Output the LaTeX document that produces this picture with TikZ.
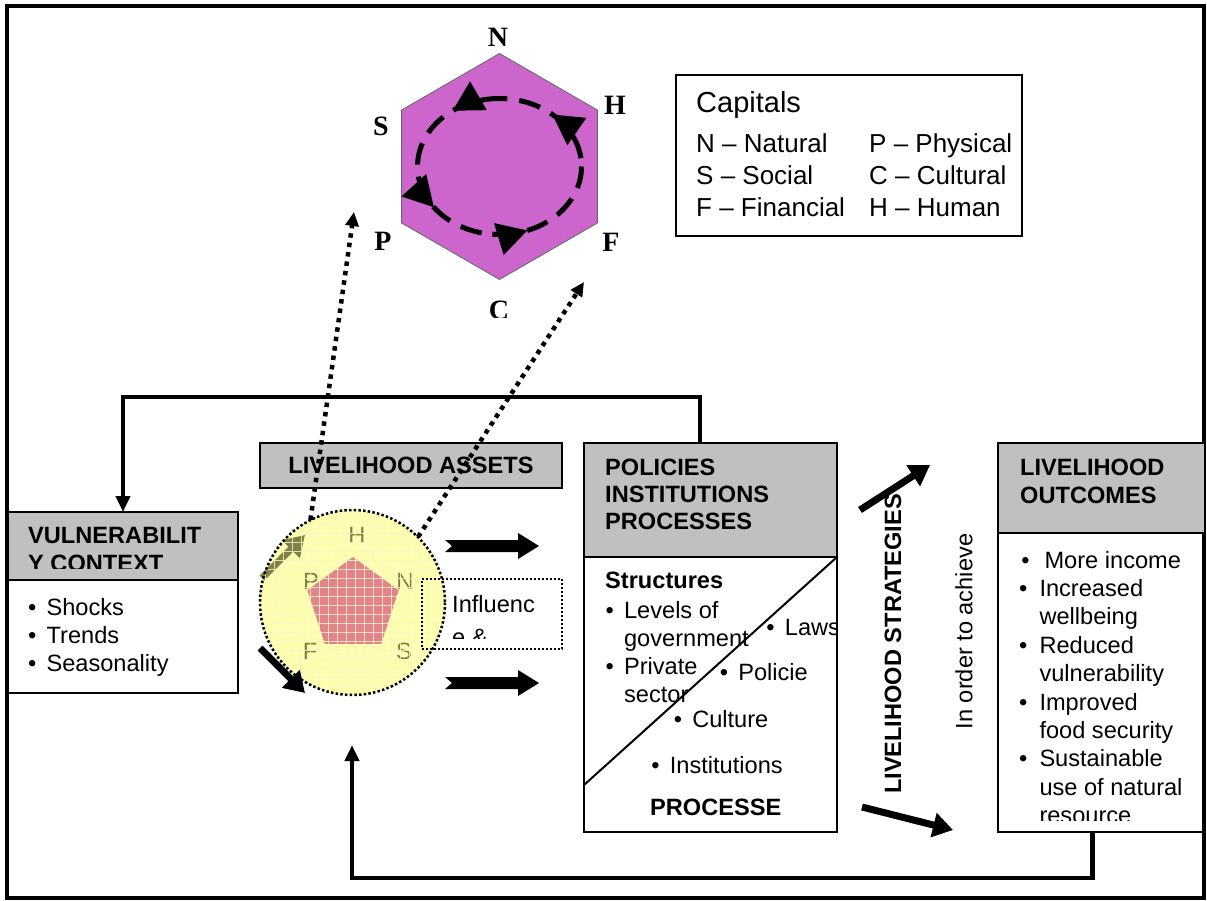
\documentclass[tikz,border=0pt]{standalone}
\usepackage{fontspec}
\setmainfont{Liberation Sans}
\newfontfamily\hexfont{Liberation Serif}
\usepackage{tikz}
\usetikzlibrary{arrows.meta,positioning,shapes.geometric}

\definecolor{hexfill}{RGB}{204,102,204}
\definecolor{headgrey}{RGB}{192,192,192}
\definecolor{assetfill}{RGB}{255,255,176}
\definecolor{pentfill}{RGB}{226,132,140}
\definecolor{assetink}{RGB}{128,128,72}
\definecolor{gridink}{RGB}{250,246,196}

\newcommand{\bodyfont}{\fontsize{23.6}{28.3}\selectfont}
\newcommand{\bul}[1][18.5]{\makebox[#1pt][l]{\textbullet}}

\begin{document}
\begin{tikzpicture}[x=1pt, y=-1pt,
  box/.style={draw, line width=2.5, anchor=north west, inner sep=0, outer sep=0},
  headbox/.style={box, fill=headgrey},
  txt/.style={anchor=base west, inner sep=0, font=\bodyfont},
  boldtxt/.style={txt, font=\bodyfont\bfseries},
  hexlbl/.style={inner sep=0, font=\hexfont\bfseries\fontsize{28}{30}\selectfont},
  captxt/.style={anchor=base west, inner sep=0, font=\fontsize{26}{31}\selectfont},
  ringarrow/.style={line width=5, -{Triangle[length=30,width=32]}},
  fb/.style={line width=4.5, -{Triangle[length=16,width=14]}},
  bigarrow/.style={line width=7, -{Triangle[length=20,width=24]}},
  dotarrow/.style={line width=4.5, dash pattern=on 4.5 off 5, -{Triangle[length=14,width=13]}}
]
\useasboundingbox (0,0) rectangle (1207,901);
% Frame
\draw[line width=4] (6.5,6.5) rectangle (1204,898);

% --- Capitals hexagon ---
\node[regular polygon, regular polygon sides=6, shape border rotate=30, minimum size=226, inner sep=0, fill=hexfill, draw=black!60, line width=0.8] (hexring) at (499.5,166.5) {};
% Dashed cycle
\draw[line width=5, dash pattern=on 22 off 12] (hexring.center) ellipse[x radius=82, y radius=68];
% Cycle arrows (running counter-clockwise)
\foreach \a in {-25,-100,-192,-265}
  \draw[ringarrow] (hexring.center) ++(\a:82 and 68) arc[start angle=\a, end angle=\a-25, x radius=82, y radius=68];
% Corner letters
\node[hexlbl] (capN) at (498,37) {N};
\node[hexlbl] (capH) at (615,105) {H};
\node[hexlbl] (capS) at (381,126) {S};
\node[hexlbl] (capP) at (383,241) {P};
\node[hexlbl] (capF) at (611,242) {F};
\begin{scope}
\clip (470,290) rectangle (530,317);
\node[hexlbl] (capC) at (499,310.5) {C};
\end{scope}

% --- Capitals key ---
\node[box, line width=2, minimum width=346, minimum height=161] (keybox) at (676,75) {};
\node[anchor=base west, inner sep=0, font=\fontsize{29}{34}\selectfont] (keytitle) at (696,113) {Capitals};
\foreach \ltr/\word/\yy in {N/Natural/153, S/Social/185, F/Financial/217}
  \node[captxt] (key\ltr) at (696,\yy) {\ltr\ -- \word};
\foreach \ltr/\word/\yy in {P/Physical/153, C/Cultural/185, H/Human/217}
  \node[captxt] (key\ltr) at (869,\yy) {\ltr\ -- \word};

% --- Vulnerability context ---
\node[headbox, minimum width=230, minimum height=68] (vulnhead) at (8,512) {};
\node[box, minimum width=230, minimum height=113] (vulnbody) at (8,580) {};
\begin{scope}
\clip (vulnhead.north west) rectangle ([yshift=12]vulnhead.south east);
\node[boldtxt] (vulntitle) at (28,543.3) {\begin{tabular}[t]{@{}l@{}}VULNERABILIT\\Y CONTEXT\end{tabular}};
\end{scope}
\node[txt] (vulnlist) at (27.9,615) {\begin{tabular}[t]{@{}l@{}}\bul Shocks\\ \bul Trends\\ \bul Seasonality\end{tabular}};

% --- Livelihood assets ---
\node[headbox, minimum width=302, minimum height=45, font=\bodyfont\bfseries] (assethead) at (260,443) {LIVELIHOOD ASSETS};
\node[circle, minimum size=185, inner sep=0, fill=assetfill] (assetring) at (352.5,602.5) {};
% pentagon of assets
\fill[pentfill] (353,557) -- (398.7,590.2) -- (381.2,643.8) -- (324.8,643.8) -- (307.3,590.2) -- cycle;
\foreach \ltr/\px/\py in {H/357/535, P/311/581, N/405/581, F/310/651, S/404/651}
  \node[inner sep=0, text=assetink, font=\bodyfont] (asset\ltr) at (\px,\py) {\ltr};
\coordinate (uptail) at (262,578);
\coordinate (uptip) at (305,535);
\draw[bigarrow, assetink] (uptail) -- (uptip);
\begin{scope}
\clip (assetring.center) circle[radius=92];
\foreach \g in {0,...,21} {
  \draw[gridink, line width=0.8, opacity=0.8] (256+9*\g,505) -- (256+9*\g,700);
  \draw[gridink, line width=0.8, opacity=0.8] (255,506+9*\g) -- (450,506+9*\g);
}
\end{scope}
\draw[line width=2.5, dash pattern=on 2.5 off 2.2] (assetring.center) circle[radius=92.5];
\coordinate (lowtail) at (260,648);
\coordinate (lowtip) at (305,693);
\draw[bigarrow] (lowtail) -- (lowtip);
% Block arrows towards policies
\foreach \yy in {546,683}
  \fill (445,\yy-6) -- (518,\yy-6) -- (518,\yy-13) -- (539,\yy) -- (518,\yy+13) -- (518,\yy+6) -- (445,\yy+6) -- (452,\yy) -- cycle;
% Influence & access
\node[box, line width=2, dash pattern=on 2 off 2, minimum width=140, minimum height=70] (inflbox) at (422,579) {};
\begin{scope}
\clip (inflbox.north west) rectangle (562,638);
\node[txt] (infl1) at (452,612) {Influenc};
\node[txt] (infl2) at (452,645) {e \&};
\end{scope}

% --- Policies, institutions, processes ---
\node[headbox, minimum width=253, minimum height=114] (polhead) at (584,443) {};
\node[box, minimum width=253, minimum height=275] (polbody) at (584,557) {};
\node[boldtxt, font=\fontsize{23.6}{27}\selectfont\bfseries] (poltitle) at (605,475) {\begin{tabular}[t]{@{}l@{}}POLICIES\\INSTITUTIONS\\PROCESSES\end{tabular}};
\draw[line width=2] ([yshift=47]polbody.south west) -- (polbody.north east);
\node[boldtxt] (structs) at (605,588) {Structures};
\node[txt] (structlist) at (605.4,618) {\begin{tabular}[t]{@{}l@{}}\bul Levels of\\\hspace*{18.5pt}government\\\bul Private\\\hspace*{18.5pt}sector\end{tabular}};
\begin{scope}
\clip (polbody.north west) rectangle ([xshift=-1]polbody.south east);
\node[txt] (laws) at (766.2,635) {\bul Laws};
\end{scope}
\node[txt] (policie) at (719.6,680.5) {\bul Policie};
\node[txt] (culture) at (673.6,727) {\bul Culture};
\node[txt] (instits) at (651.2,773) {\bul Institutions};
\node[boldtxt] (procs) at (650,815) {PROCESSE};

% --- Livelihood strategies ---
\node[rotate=90, inner sep=0, font=\bodyfont\bfseries] (stratlbl) at (893,644) {LIVELIHOOD STRATEGIES};
\node[rotate=90, inner sep=0, font=\bodyfont] (achieve) at (964,631.5) {In order to achieve};
\coordinate (strattail1) at (860,510);
\coordinate (strattip1) at (930,465);
\coordinate (strattail2) at (862,807);
\coordinate (strattip2) at (953,830);
\draw[bigarrow] (strattail1) -- (strattip1);
\draw[bigarrow] (strattail2) -- (strattip2);

% --- Livelihood outcomes ---
\node[headbox, minimum width=207, minimum height=90] (outhead) at (998,443) {};
\node[box, minimum width=207, minimum height=299] (outbody) at (998,533) {};
\node[boldtxt] (outtitle) at (1020,475) {\begin{tabular}[t]{@{}l@{}}LIVELIHOOD\\OUTCOMES\end{tabular}};
\begin{scope}
\clip (outbody.north west) rectangle (1205,820);
\node[txt, font=\fontsize{23.6}{28.4}\selectfont] (outlist) at (1018.9,568) {\begin{tabular}[t]{@{}l@{}}\hspace*{2.3pt}\bul[23.2]More income\\ \bul[20.4]Increased\\ \hspace*{20.4pt}wellbeing\\ \bul[20.4]Reduced\\ \hspace*{20.4pt}vulnerability\\ \bul[20.4]Improved\\ \hspace*{20.4pt}food security\\ \bul[20.4]Sustainable\\ \hspace*{20.4pt}use of natural\\ \hspace*{20.4pt}resource\end{tabular}};
\end{scope}

% --- Feedback loops ---
\draw[fb] ([xshift=-10.5]polhead.north) -- ++(0,-46) -| (vulnhead.north);
\coordinate (fbend) at (352,745);
\draw[fb] ([xshift=-9]outbody.south) -- ++(0,46) -| (fbend);

% Assets linked to capitals
\coordinate (hexleft) at (354,212);
\coordinate (hexright) at (584,282);
\draw[dotarrow] (assetring.117) -- (hexleft);
\draw[dotarrow] (assetring.45) -- (hexright);
\end{tikzpicture}
\end{document}
